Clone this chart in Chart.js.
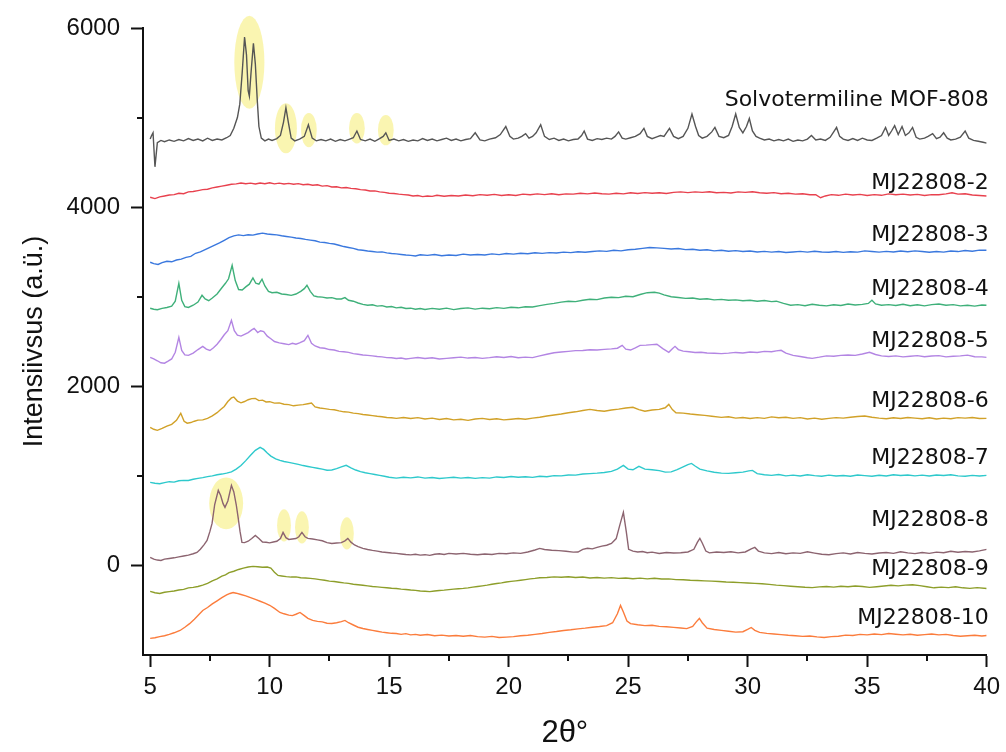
<!DOCTYPE html>
<html>
<head>
<meta charset="utf-8">
<script src="https://cdn.jsdelivr.net/npm/chart.js@4.4.1/dist/chart.umd.min.js"></script>
<style>
    body { margin: 0; background: #fff; }
    #xrd { display: block; }
</style>
</head>
<body>
<canvas id="xrd" width="1006" height="752"></canvas>
<script>
// diffraktogrammid, [2θ, intensiivsus] (nihutatud)
const mof808 = [[5.0,4760],[5.06,4800],[5.12,4830],[5.2,4450],[5.3,4720],[5.45,4745],[5.6,4730],[5.8,4750],[6.0,4735],[6.2,4755],[6.4,4740],[6.6,4765],[6.8,4745],[7.0,4760],[7.2,4740],[7.4,4770],[7.6,4745],[7.8,4760],[8.0,4750],[8.2,4775],[8.35,4800],[8.5,4880],[8.65,5000],[8.75,5150],[8.85,5500],[8.95,5900],[9.03,5700],[9.1,5300],[9.15,5240],[9.22,5500],[9.32,5830],[9.4,5600],[9.48,5200],[9.55,4900],[9.65,4770],[9.8,4740],[9.95,4760],[10.1,4745],[10.3,4765],[10.45,4800],[10.58,4950],[10.68,5110],[10.78,4950],[10.9,4770],[11.05,4740],[11.25,4760],[11.45,4790],[11.62,4920],[11.78,4770],[11.95,4740],[12.15,4755],[12.35,4740],[12.55,4760],[12.75,4735],[12.95,4755],[13.15,4740],[13.35,4760],[13.5,4775],[13.65,4850],[13.8,4755],[14.0,4740],[14.2,4760],[14.4,4735],[14.6,4765],[14.75,4790],[14.86,4830],[15.0,4745],[15.2,4760],[15.4,4740],[15.6,4755],[15.8,4735],[16.0,4750],[16.2,4740],[16.4,4765],[16.6,4745],[16.8,4760],[17.0,4740],[17.2,4755],[17.4,4770],[17.6,4745],[17.8,4760],[18.0,4740],[18.2,4755],[18.4,4765],[18.6,4830],[18.8,4750],[19.0,4740],[19.2,4760],[19.45,4775],[19.65,4810],[19.88,4900],[20.05,4790],[20.2,4760],[20.4,4770],[20.55,4790],[20.71,4820],[20.85,4770],[21.0,4790],[21.15,4830],[21.34,4920],[21.5,4790],[21.7,4755],[21.9,4770],[22.1,4745],[22.3,4760],[22.5,4740],[22.7,4755],[22.9,4760],[23.05,4800],[23.16,4850],[23.3,4760],[23.5,4745],[23.7,4765],[23.9,4755],[24.1,4770],[24.3,4760],[24.45,4790],[24.6,4840],[24.75,4770],[24.9,4760],[25.1,4775],[25.3,4790],[25.5,4820],[25.66,4880],[25.8,4790],[26.0,4765],[26.2,4785],[26.35,4800],[26.5,4790],[26.73,4880],[26.9,4790],[27.1,4765],[27.3,4790],[27.5,4880],[27.67,5040],[27.82,4900],[27.95,4800],[28.1,4770],[28.3,4790],[28.5,4840],[28.63,4890],[28.8,4790],[29.0,4775],[29.2,4800],[29.35,4900],[29.5,5040],[29.65,4890],[29.8,4830],[29.95,4900],[30.07,4990],[30.2,4850],[30.35,4790],[30.5,4770],[30.7,4750],[30.9,4760],[31.1,4740],[31.3,4755],[31.5,4740],[31.7,4760],[31.9,4735],[32.1,4750],[32.3,4740],[32.5,4760],[32.67,4800],[32.85,4750],[33.05,4760],[33.25,4745],[33.45,4780],[33.6,4840],[33.72,4890],[33.85,4790],[34.0,4760],[34.2,4745],[34.4,4765],[34.6,4745],[34.8,4770],[35.0,4750],[35.2,4745],[35.4,4770],[35.6,4800],[35.77,4890],[35.9,4800],[36.02,4850],[36.15,4910],[36.3,4810],[36.46,4900],[36.6,4800],[36.75,4830],[36.9,4890],[37.05,4780],[37.2,4760],[37.4,4770],[37.55,4790],[37.74,4820],[37.9,4765],[38.05,4780],[38.2,4830],[38.35,4770],[38.5,4750],[38.7,4760],[38.9,4780],[39.1,4850],[39.25,4770],[39.45,4745],[39.65,4735],[39.85,4725],[40.0,4715]]
const mj2 = [[5.0,4110],[5.2,4095],[5.4,4115],[5.6,4125],[5.8,4135],[6.0,4140],[6.2,4155],[6.4,4150],[6.6,4170],[6.8,4175],[7.0,4185],[7.2,4195],[7.4,4200],[7.6,4215],[7.8,4225],[8.0,4235],[8.2,4245],[8.4,4255],[8.6,4260],[8.8,4270],[9.0,4262],[9.2,4268],[9.4,4258],[9.6,4270],[9.8,4262],[10.0,4272],[10.2,4260],[10.4,4268],[10.6,4258],[10.8,4265],[11.0,4255],[11.2,4262],[11.4,4250],[11.6,4255],[11.8,4245],[12.0,4250],[12.2,4235],[12.4,4240],[12.6,4225],[12.8,4228],[13.0,4215],[13.2,4220],[13.4,4210],[13.6,4205],[13.8,4195],[14.0,4192],[14.2,4180],[14.4,4182],[14.6,4170],[14.8,4165],[15.0,4155],[15.2,4152],[15.4,4145],[15.6,4140],[15.8,4135],[16.0,4125],[16.2,4130],[16.4,4118],[16.6,4125],[16.8,4120],[17.0,4132],[17.3,4122],[17.6,4130],[17.9,4125],[18.2,4135],[18.5,4128],[18.8,4140],[19.1,4132],[19.4,4142],[19.7,4130],[20.0,4138],[20.3,4130],[20.6,4145],[20.9,4138],[21.2,4148],[21.5,4140],[21.8,4150],[22.1,4138],[22.4,4148],[22.7,4145],[23.0,4155],[23.3,4148],[23.6,4158],[23.9,4150],[24.2,4145],[24.5,4155],[24.8,4148],[25.1,4160],[25.4,4152],[25.7,4162],[26.0,4155],[26.3,4160],[26.6,4152],[26.9,4165],[27.2,4170],[27.5,4162],[27.8,4170],[28.1,4165],[28.4,4172],[28.7,4160],[29.0,4165],[29.3,4158],[29.6,4170],[29.9,4165],[30.2,4172],[30.5,4160],[30.8,4155],[31.1,4162],[31.4,4150],[31.7,4155],[32.0,4145],[32.3,4150],[32.6,4138],[32.85,4140],[33.05,4105],[33.25,4125],[33.5,4140],[33.8,4132],[34.1,4145],[34.4,4135],[34.7,4142],[35.0,4130],[35.3,4140],[35.6,4132],[35.9,4148],[36.2,4138],[36.5,4145],[36.8,4135],[37.1,4142],[37.4,4130],[37.7,4140],[38.0,4138],[38.3,4148],[38.55,4160],[38.8,4145],[39.1,4150],[39.4,4135],[39.7,4130],[40.0,4125]]
const mj3 = [[5.0,3385],[5.15,3370],[5.33,3360],[5.5,3380],[5.7,3395],[5.9,3390],[6.1,3410],[6.3,3420],[6.5,3440],[6.7,3450],[6.9,3485],[7.1,3500],[7.3,3525],[7.5,3550],[7.7,3575],[7.9,3600],[8.1,3630],[8.3,3660],[8.5,3680],[8.7,3690],[8.9,3682],[9.1,3692],[9.3,3688],[9.5,3700],[9.7,3710],[9.9,3700],[10.1,3695],[10.3,3690],[10.5,3680],[10.7,3672],[10.9,3665],[11.1,3655],[11.3,3650],[11.5,3640],[11.7,3632],[11.9,3625],[12.1,3610],[12.3,3605],[12.5,3595],[12.7,3588],[12.9,3575],[13.1,3560],[13.3,3550],[13.5,3540],[13.7,3525],[13.9,3518],[14.1,3510],[14.3,3505],[14.5,3498],[14.7,3500],[14.9,3490],[15.1,3482],[15.3,3478],[15.5,3472],[15.7,3465],[15.9,3462],[16.1,3455],[16.3,3468],[16.6,3462],[16.9,3472],[17.2,3458],[17.5,3465],[17.8,3460],[18.1,3475],[18.4,3465],[18.7,3472],[19.0,3466],[19.3,3478],[19.6,3470],[19.9,3482],[20.2,3476],[20.5,3486],[20.8,3480],[21.1,3490],[21.4,3484],[21.7,3492],[22.0,3488],[22.3,3498],[22.6,3492],[22.9,3502],[23.2,3496],[23.5,3505],[23.8,3512],[24.1,3506],[24.4,3518],[24.7,3512],[25.0,3525],[25.3,3530],[25.6,3540],[25.9,3550],[26.2,3545],[26.5,3540],[26.8,3532],[27.1,3538],[27.4,3526],[27.7,3530],[28.0,3518],[28.3,3524],[28.6,3512],[28.9,3518],[29.2,3508],[29.5,3514],[29.8,3505],[30.1,3510],[30.4,3500],[30.7,3506],[31.0,3498],[31.3,3504],[31.6,3494],[31.9,3500],[32.2,3506],[32.5,3498],[32.8,3508],[33.1,3500],[33.4,3496],[33.7,3505],[34.0,3495],[34.3,3502],[34.6,3498],[34.9,3512],[35.2,3505],[35.5,3498],[35.8,3506],[36.1,3500],[36.4,3510],[36.7,3502],[37.0,3512],[37.3,3504],[37.6,3496],[37.9,3504],[38.2,3498],[38.5,3510],[38.8,3504],[39.1,3516],[39.4,3508],[39.7,3520],[40.0,3519]]
const mj4 = [[5.0,2871],[5.15,2860],[5.3,2855],[5.5,2870],[5.7,2880],[5.9,2895],[6.05,2950],[6.2,3150],[6.32,2960],[6.45,2890],[6.6,2880],[6.8,2905],[7.0,2940],[7.17,3016],[7.3,2975],[7.45,2955],[7.6,2985],[7.8,3030],[8.0,3100],[8.15,3150],[8.28,3200],[8.43,3351],[8.56,3180],[8.7,3080],[8.85,3075],[9.0,3110],[9.15,3140],[9.3,3210],[9.42,3150],[9.55,3140],[9.68,3195],[9.8,3120],[9.95,3060],[10.1,3045],[10.3,3050],[10.5,3030],[10.7,3025],[10.9,3015],[11.1,3030],[11.3,3060],[11.45,3090],[11.56,3128],[11.7,3060],[11.85,3010],[12.0,3000],[12.2,2995],[12.4,2985],[12.6,2990],[12.8,2975],[13.0,2975],[13.15,2990],[13.3,2960],[13.5,2950],[13.7,2930],[13.9,2915],[14.1,2905],[14.3,2910],[14.5,2895],[14.7,2900],[14.9,2885],[15.1,2890],[15.3,2875],[15.5,2882],[15.7,2868],[15.9,2872],[16.1,2860],[16.3,2868],[16.5,2858],[16.8,2870],[17.1,2860],[17.4,2872],[17.7,2856],[18.0,2868],[18.3,2875],[18.6,2862],[18.9,2872],[19.2,2865],[19.5,2878],[19.8,2870],[20.1,2882],[20.4,2876],[20.7,2888],[21.0,2885],[21.3,2900],[21.6,2915],[21.9,2925],[22.2,2940],[22.5,2950],[22.8,2945],[23.1,2960],[23.4,2972],[23.7,2968],[24.0,2985],[24.3,2994],[24.6,2990],[24.9,3005],[25.2,3000],[25.5,3025],[25.8,3045],[26.1,3050],[26.3,3040],[26.5,3020],[26.8,3000],[27.1,2992],[27.4,2982],[27.7,2985],[28.0,2972],[28.3,2978],[28.6,2965],[28.9,2970],[29.2,2960],[29.5,2965],[29.8,2955],[30.1,2960],[30.4,2950],[30.7,2958],[31.0,2945],[31.2,2950],[31.5,2925],[31.8,2905],[32.1,2912],[32.4,2900],[32.7,2915],[33.0,2905],[33.3,2898],[33.6,2910],[33.9,2902],[34.2,2918],[34.5,2908],[34.8,2914],[35.05,2925],[35.2,2960],[35.35,2920],[35.6,2905],[35.9,2912],[36.2,2902],[36.5,2915],[36.8,2900],[37.1,2910],[37.4,2898],[37.7,2912],[38.0,2918],[38.3,2905],[38.6,2912],[38.9,2898],[39.2,2905],[39.5,2895],[39.8,2908],[40.0,2904]]
const mj5 = [[5.0,2323],[5.15,2305],[5.3,2285],[5.45,2262],[5.6,2258],[5.75,2280],[5.9,2305],[6.05,2380],[6.2,2547],[6.32,2400],[6.45,2350],[6.6,2345],[6.8,2370],[7.0,2410],[7.2,2446],[7.35,2415],[7.5,2400],[7.65,2430],[7.8,2470],[7.95,2520],[8.1,2575],[8.25,2620],[8.4,2737],[8.52,2620],[8.65,2570],[8.8,2560],[8.95,2580],[9.1,2600],[9.25,2630],[9.35,2647],[9.5,2600],[9.62,2620],[9.75,2610],[9.9,2560],[10.05,2530],[10.2,2500],[10.4,2485],[10.6,2475],[10.8,2465],[10.95,2480],[11.1,2470],[11.25,2485],[11.45,2510],[11.6,2569],[11.75,2480],[11.9,2450],[12.1,2430],[12.3,2425],[12.5,2410],[12.7,2405],[12.9,2390],[13.1,2385],[13.3,2378],[13.5,2365],[13.7,2358],[13.9,2350],[14.1,2345],[14.3,2340],[14.5,2332],[14.7,2328],[14.9,2320],[15.1,2318],[15.3,2310],[15.5,2316],[15.7,2305],[15.9,2312],[16.2,2322],[16.5,2310],[16.8,2318],[17.1,2304],[17.4,2312],[17.7,2318],[18.0,2325],[18.3,2315],[18.6,2322],[18.9,2312],[19.2,2320],[19.5,2330],[19.8,2322],[20.1,2332],[20.4,2318],[20.7,2326],[21.0,2320],[21.3,2340],[21.6,2358],[21.9,2375],[22.2,2382],[22.5,2390],[22.8,2398],[23.1,2400],[23.4,2408],[23.7,2405],[24.0,2412],[24.3,2418],[24.55,2425],[24.75,2457],[24.9,2415],[25.1,2405],[25.3,2430],[25.5,2457],[25.75,2460],[26.0,2465],[26.2,2469],[26.45,2420],[26.7,2380],[26.85,2420],[26.96,2446],[27.1,2410],[27.3,2392],[27.55,2385],[27.8,2378],[28.05,2380],[28.3,2372],[28.6,2368],[28.9,2365],[29.2,2370],[29.5,2378],[29.8,2372],[30.1,2382],[30.4,2378],[30.7,2390],[31.0,2385],[31.2,2395],[31.4,2402],[31.6,2370],[31.9,2345],[32.2,2332],[32.5,2318],[32.7,2312],[33.0,2325],[33.3,2340],[33.6,2335],[33.9,2345],[34.2,2350],[34.5,2345],[34.8,2360],[35.1,2379],[35.35,2355],[35.6,2340],[35.9,2332],[36.2,2340],[36.5,2328],[36.8,2335],[37.1,2342],[37.4,2330],[37.7,2338],[38.0,2342],[38.3,2328],[38.6,2335],[38.9,2340],[39.2,2348],[39.5,2330],[39.8,2328],[40.0,2323]]
const mj6 = [[5.0,1541],[5.15,1520],[5.3,1508],[5.5,1530],[5.7,1555],[5.9,1575],[6.1,1620],[6.28,1698],[6.42,1610],[6.55,1588],[6.7,1595],[6.85,1610],[7.0,1622],[7.2,1625],[7.4,1642],[7.6,1670],[7.8,1705],[7.95,1740],[8.1,1775],[8.25,1830],[8.4,1870],[8.5,1880],[8.65,1835],[8.8,1815],[8.95,1830],[9.1,1850],[9.25,1862],[9.4,1865],[9.55,1840],[9.7,1845],[9.85,1825],[10.0,1828],[10.2,1812],[10.4,1815],[10.6,1800],[10.8,1795],[11.0,1782],[11.2,1790],[11.4,1795],[11.6,1805],[11.75,1812],[11.9,1770],[12.1,1758],[12.3,1750],[12.5,1742],[12.7,1738],[12.9,1725],[13.1,1715],[13.3,1712],[13.5,1700],[13.7,1695],[13.9,1685],[14.1,1680],[14.3,1672],[14.5,1665],[14.7,1660],[14.9,1652],[15.1,1648],[15.3,1642],[15.6,1652],[15.9,1640],[16.2,1650],[16.5,1635],[16.8,1645],[17.1,1630],[17.4,1640],[17.7,1625],[18.0,1632],[18.3,1620],[18.6,1635],[18.9,1642],[19.2,1630],[19.5,1638],[19.8,1625],[20.1,1632],[20.4,1640],[20.7,1632],[21.0,1645],[21.3,1655],[21.6,1668],[21.9,1680],[22.2,1690],[22.5,1705],[22.8,1715],[23.1,1730],[23.4,1742],[23.7,1730],[24.0,1722],[24.3,1735],[24.6,1745],[24.9,1758],[25.2,1765],[25.45,1740],[25.7,1722],[26.0,1735],[26.3,1742],[26.55,1760],[26.7,1798],[26.85,1740],[27.0,1705],[27.3,1700],[27.6,1690],[27.9,1682],[28.2,1675],[28.5,1665],[28.9,1653],[29.2,1660],[29.5,1645],[29.8,1652],[30.1,1640],[30.4,1650],[30.7,1642],[31.0,1658],[31.3,1648],[31.6,1655],[31.9,1642],[32.2,1650],[32.5,1635],[32.8,1645],[33.1,1632],[33.4,1642],[33.7,1650],[34.0,1645],[34.3,1655],[34.6,1662],[34.9,1668],[35.2,1655],[35.5,1645],[35.8,1638],[36.1,1648],[36.4,1640],[36.7,1652],[37.0,1645],[37.3,1638],[37.6,1648],[37.9,1635],[38.2,1645],[38.5,1638],[38.8,1650],[39.1,1645],[39.4,1652],[39.7,1640],[40.0,1642]]
const mj7 = [[5.0,927],[5.2,918],[5.4,912],[5.6,925],[5.8,935],[6.0,930],[6.2,945],[6.4,950],[6.6,948],[6.8,962],[7.0,972],[7.2,980],[7.4,992],[7.6,1000],[7.8,1012],[8.0,1020],[8.2,1030],[8.4,1045],[8.6,1075],[8.8,1115],[9.0,1170],[9.2,1230],[9.4,1285],[9.6,1318],[9.75,1295],[9.9,1255],[10.05,1220],[10.25,1190],[10.43,1173],[10.6,1160],[10.8,1150],[11.0,1140],[11.2,1128],[11.4,1115],[11.6,1105],[11.8,1095],[12.0,1085],[12.2,1075],[12.4,1062],[12.6,1065],[12.8,1080],[13.0,1100],[13.2,1117],[13.4,1090],[13.6,1065],[13.8,1048],[14.0,1035],[14.2,1025],[14.4,1015],[14.6,1005],[14.8,995],[15.0,985],[15.3,975],[15.6,985],[15.9,978],[16.2,988],[16.5,975],[16.8,982],[17.1,970],[17.4,978],[17.7,985],[18.0,975],[18.3,982],[18.6,972],[18.9,980],[19.2,975],[19.5,988],[19.8,982],[20.1,992],[20.4,985],[20.7,990],[21.0,983],[21.3,995],[21.6,990],[21.9,1002],[22.2,1000],[22.5,1010],[22.8,1008],[23.1,1020],[23.4,1025],[23.7,1030],[24.0,1038],[24.3,1050],[24.55,1075],[24.8,1117],[25.0,1075],[25.2,1068],[25.45,1106],[25.7,1075],[26.0,1068],[26.3,1058],[26.55,1042],[26.8,1045],[27.05,1070],[27.3,1100],[27.5,1125],[27.65,1139],[27.8,1110],[28.0,1075],[28.3,1055],[28.6,1040],[28.9,1030],[29.2,1028],[29.5,1035],[29.8,1042],[30.05,1055],[30.2,1061],[30.4,1025],[30.7,1012],[31.0,1005],[31.3,1015],[31.6,1000],[31.9,1008],[32.2,998],[32.5,1012],[32.8,1002],[33.1,995],[33.4,1008],[33.7,998],[34.0,1004],[34.3,995],[34.6,1010],[34.9,1002],[35.2,995],[35.5,1006],[35.8,998],[36.1,1012],[36.4,1004],[36.7,1010],[37.0,1000],[37.3,1008],[37.6,998],[37.9,1010],[38.2,1004],[38.5,1012],[38.8,1000],[39.1,995],[39.4,1005],[39.7,998],[40.0,1005]]
const mj8 = [[5.0,89],[5.15,70],[5.3,60],[5.45,55],[5.6,70],[5.8,78],[6.0,85],[6.2,95],[6.4,105],[6.6,115],[6.8,130],[6.96,145],[7.1,180],[7.25,230],[7.38,279],[7.5,380],[7.59,469],[7.7,680],[7.85,838],[7.95,780],[8.05,690],[8.13,648],[8.25,720],[8.4,894],[8.5,820],[8.6,680],[8.68,536],[8.76,380],[8.84,257],[8.95,255],[9.1,270],[9.25,300],[9.4,335],[9.55,300],[9.7,262],[9.85,258],[10.0,252],[10.15,262],[10.3,270],[10.45,300],[10.56,369],[10.68,310],[10.8,290],[10.95,295],[11.1,300],[11.22,320],[11.35,369],[11.48,320],[11.6,302],[11.8,295],[12.0,285],[12.2,275],[12.4,255],[12.6,245],[12.8,250],[13.0,255],[13.15,275],[13.27,302],[13.4,260],[13.55,228],[13.7,210],[13.9,190],[14.1,178],[14.3,168],[14.5,160],[14.7,150],[14.9,145],[15.1,138],[15.3,134],[15.5,128],[15.7,122],[15.9,118],[16.1,125],[16.3,115],[16.5,120],[16.7,112],[16.9,125],[17.1,130],[17.3,122],[17.5,135],[17.8,128],[18.1,134],[18.4,125],[18.7,120],[19.0,128],[19.3,122],[19.6,135],[19.9,130],[20.2,140],[20.5,135],[20.8,150],[21.1,172],[21.3,190],[21.5,178],[21.8,170],[22.1,165],[22.4,158],[22.7,148],[22.9,150],[23.1,180],[23.3,192],[23.5,185],[23.7,201],[23.9,215],[24.1,225],[24.3,246],[24.5,300],[24.65,450],[24.8,592],[24.92,380],[25.02,180],[25.2,160],[25.4,150],[25.6,155],[25.8,142],[26.0,148],[26.3,134],[26.6,145],[26.9,138],[27.2,142],[27.5,150],[27.75,180],[27.9,260],[28.0,302],[28.1,250],[28.25,160],[28.4,140],[28.7,150],[29.0,145],[29.3,152],[29.6,140],[29.9,150],[30.15,185],[30.3,201],[30.45,160],[30.7,140],[31.0,132],[31.3,145],[31.6,130],[31.9,140],[32.2,135],[32.5,152],[32.8,138],[33.1,125],[33.4,120],[33.7,132],[34.0,140],[34.3,128],[34.6,145],[34.9,135],[35.2,128],[35.5,138],[35.8,145],[36.1,135],[36.4,152],[36.7,140],[37.0,132],[37.3,145],[37.6,135],[37.9,148],[38.2,142],[38.5,158],[38.8,148],[39.1,155],[39.4,150],[39.7,162],[40.0,179]]
const mj9 = [[5.0,-290],[5.2,-305],[5.4,-313],[5.6,-300],[5.8,-292],[6.0,-285],[6.2,-275],[6.4,-268],[6.6,-250],[6.8,-245],[7.0,-235],[7.2,-220],[7.4,-200],[7.6,-172],[7.8,-150],[8.0,-120],[8.15,-105],[8.3,-80],[8.5,-65],[8.7,-45],[8.9,-30],[9.1,-18],[9.3,-11],[9.5,-15],[9.7,-20],[9.9,-18],[10.05,-30],[10.2,-75],[10.35,-112],[10.5,-118],[10.7,-125],[10.9,-130],[11.1,-128],[11.3,-138],[11.5,-140],[11.7,-145],[11.9,-150],[12.1,-158],[12.3,-165],[12.5,-175],[12.7,-180],[12.9,-188],[13.1,-195],[13.3,-200],[13.5,-210],[13.7,-215],[13.9,-222],[14.1,-228],[14.3,-235],[14.5,-240],[14.7,-245],[14.9,-250],[15.1,-255],[15.3,-258],[15.5,-265],[15.7,-268],[15.9,-275],[16.1,-278],[16.3,-285],[16.5,-288],[16.7,-292],[16.9,-285],[17.1,-280],[17.3,-276],[17.5,-270],[17.7,-265],[17.9,-260],[18.1,-256],[18.3,-250],[18.5,-242],[18.7,-235],[18.9,-228],[19.1,-220],[19.3,-210],[19.5,-202],[19.7,-195],[19.9,-185],[20.1,-178],[20.3,-172],[20.5,-165],[20.7,-158],[20.9,-150],[21.1,-145],[21.3,-138],[21.6,-134],[21.9,-128],[22.2,-132],[22.5,-126],[22.8,-135],[23.1,-130],[23.4,-140],[23.7,-135],[24.0,-142],[24.3,-136],[24.6,-145],[24.9,-140],[25.2,-148],[25.5,-142],[25.8,-150],[26.1,-144],[26.4,-152],[26.7,-150],[27.0,-158],[27.3,-160],[27.6,-165],[27.9,-168],[28.2,-172],[28.5,-175],[28.8,-180],[29.1,-185],[29.4,-188],[29.7,-192],[30.0,-196],[30.3,-200],[30.6,-205],[30.9,-212],[31.2,-220],[31.5,-225],[31.8,-232],[32.1,-238],[32.4,-244],[32.7,-248],[33.0,-240],[33.3,-236],[33.6,-242],[33.9,-232],[34.2,-238],[34.5,-230],[34.8,-236],[35.1,-245],[35.4,-238],[35.7,-230],[36.0,-222],[36.3,-228],[36.6,-220],[36.9,-215],[37.2,-225],[37.5,-238],[37.8,-250],[38.1,-242],[38.4,-248],[38.7,-238],[39.0,-250],[39.3,-256],[39.6,-248],[40.0,-257]]
const mj10 = [[5.0,-815],[5.2,-808],[5.4,-795],[5.6,-785],[5.8,-770],[6.0,-752],[6.25,-726],[6.45,-690],[6.65,-650],[6.85,-600],[7.05,-545],[7.2,-503],[7.4,-470],[7.6,-430],[7.8,-395],[8.0,-360],[8.2,-330],[8.34,-313],[8.47,-302],[8.6,-310],[8.8,-325],[9.0,-340],[9.2,-360],[9.4,-380],[9.6,-400],[9.8,-420],[10.0,-445],[10.2,-480],[10.43,-525],[10.6,-540],[10.8,-555],[10.95,-560],[11.1,-545],[11.27,-525],[11.45,-560],[11.6,-590],[11.8,-614],[12.0,-625],[12.2,-630],[12.4,-645],[12.6,-648],[12.8,-640],[13.0,-628],[13.15,-614],[13.3,-640],[13.5,-665],[13.7,-690],[13.9,-704],[14.1,-715],[14.3,-725],[14.5,-735],[14.7,-745],[14.9,-752],[15.1,-758],[15.3,-760],[15.5,-770],[15.7,-762],[15.9,-775],[16.1,-770],[16.3,-780],[16.6,-772],[16.9,-785],[17.2,-778],[17.5,-788],[17.8,-782],[18.1,-790],[18.4,-782],[18.7,-795],[19.0,-800],[19.3,-792],[19.6,-805],[19.9,-800],[20.2,-795],[20.5,-785],[20.8,-780],[21.1,-770],[21.4,-760],[21.7,-748],[22.0,-738],[22.3,-726],[22.6,-718],[22.9,-708],[23.2,-700],[23.5,-690],[23.8,-682],[24.1,-672],[24.35,-640],[24.55,-540],[24.68,-447],[24.8,-520],[24.95,-620],[25.1,-650],[25.4,-662],[25.7,-672],[26.0,-668],[26.3,-680],[26.6,-685],[26.9,-692],[27.2,-698],[27.45,-705],[27.7,-680],[27.85,-630],[27.98,-592],[28.1,-640],[28.3,-700],[28.6,-715],[28.9,-725],[29.2,-735],[29.5,-745],[29.8,-740],[30.0,-715],[30.15,-693],[30.3,-725],[30.5,-748],[30.8,-758],[31.1,-765],[31.4,-772],[31.7,-780],[32.0,-785],[32.3,-792],[32.6,-788],[32.9,-798],[33.2,-805],[33.5,-795],[33.8,-790],[34.1,-778],[34.4,-782],[34.7,-770],[35.0,-775],[35.3,-765],[35.6,-772],[35.9,-760],[36.2,-768],[36.5,-775],[36.8,-768],[37.1,-780],[37.4,-772],[37.7,-765],[38.0,-775],[38.3,-770],[38.6,-782],[38.9,-790],[39.2,-785],[39.5,-780],[39.8,-788],[40.0,-782]]

const sampleNames = ['Solvotermiline MOF-808', 'MJ22808-2', 'MJ22808-3', 'MJ22808-4', 'MJ22808-5', 'MJ22808-6', 'MJ22808-7', 'MJ22808-8', 'MJ22808-9', 'MJ22808-10']
const nameY = [5194, 4270, 3690, 3080, 2500, 1830, 1200, 503, -45, -592]
const xTicks = [5, 7.5, 10, 12.5, 15, 17.5, 20, 22.5, 25, 27.5, 30, 32.5, 35, 37.5, 40]
const yTicks = [-1000, 0, 1000, 2000, 3000, 4000, 5000, 6000]

// kollased esiletõstud: [2θ, y, raadius 2θ, raadius y]
const highlights = [[9.15, 5618, 0.63, 520], [10.68, 4881, 0.46, 280], [11.64, 4860, 0.33, 190], [13.65, 4881, 0.33, 170], [14.86, 4860, 0.33, 170],
    [8.18, 693, 0.71, 290], [10.6, 447, 0.29, 180], [11.35, 425, 0.29, 180], [13.23, 357, 0.29, 180]]

const allSeries = [mof808, mj2, mj3, mj4, mj5, mj6, mj7, mj8, mj9, mj10]
const colors = ['#555555', '#e8414e', '#3a78de', '#3fb07a', '#b385e3', '#d1a128', '#2ec9cc', '#8c6470', '#8d9e2a', '#fb7c3c']

const isMajorX = (v) => v % 5 === 0
const isMajorY = (v) => v >= 0 && v % 2000 === 0

const decor = {
    id: 'decor',
    beforeDatasetsDraw(chart) {
        const { ctx, scales: { x, y } } = chart
        ctx.save()
        ctx.fillStyle = 'rgba(246, 238, 125, 0.6)'
        highlights.forEach(([cx, cy, rx, ry]) => {
            const px = x.getPixelForValue(cx)
            const py = y.getPixelForValue(cy)
            const w = x.getPixelForValue(cx + rx) - px
            const h = py - y.getPixelForValue(cy + ry)
            ctx.beginPath()
            ctx.ellipse(px, py, w, h, 0, 0, Math.PI * 2)
            ctx.fill()
        })
        ctx.restore()
    },
    afterDraw(chart) {
        const { ctx, chartArea, scales: { x, y } } = chart
        ctx.save()
        // väikesed jaotised
        ctx.strokeStyle = '#111'
        ctx.lineWidth = 2
        xTicks.filter((v) => !isMajorX(v)).forEach((v) => {
            const px = Math.round(x.getPixelForValue(v))
            ctx.beginPath()
            ctx.moveTo(px, chartArea.bottom)
            ctx.lineTo(px, chartArea.bottom + 6)
            ctx.stroke()
        })
        yTicks.filter((v) => !isMajorY(v) && v > -1000).forEach((v) => {
            const py = Math.round(y.getPixelForValue(v))
            ctx.beginPath()
            ctx.moveTo(chartArea.left, py)
            ctx.lineTo(chartArea.left - 6, py)
            ctx.stroke()
        })
        // proovide nimed
        ctx.fillStyle = '#111'
        ctx.font = '22px "DejaVu Sans"'
        ctx.textAlign = 'right'
        ctx.textBaseline = 'middle'
        sampleNames.forEach((name, i) => {
            ctx.fillText(name, chartArea.right + 2, y.getPixelForValue(nameY[i]))
        })
        ctx.restore()
    },
}

new Chart(document.getElementById('xrd'), {
    type: 'line',
    data: {
        datasets: allSeries.map((s, i) => ({
            label: sampleNames[i],
            data: s.map(([a, b]) => ({ x: a, y: b })),
            borderColor: colors[i],
            borderWidth: 1.4,
            pointRadius: 0,
            tension: 0,
        })),
    },
    options: {
        responsive: false,
        animation: false,
        devicePixelRatio: 1,
        layout: { padding: { top: 28, right: 18, left: 0, bottom: 0 } },
        plugins: { legend: { display: false }, tooltip: { enabled: false } },
        scales: {
            x: {
                type: 'linear',
                min: 4.7,
                max: 40,
                afterBuildTicks: (scale) => { scale.ticks = xTicks.map((v) => ({ value: v })) },
                afterFit: (scale) => { scale.height = 97 },
                border: { color: '#111', width: 2 },
                grid: {
                    drawOnChartArea: false,
                    tickLength: 12,
                    tickWidth: 2,
                    tickColor: (c) => (isMajorX(c.tick.value) ? '#111' : 'rgba(0,0,0,0)'),
                },
                ticks: {
                    autoSkip: false,
                    maxRotation: 0,
                    padding: 6,
                    color: '#111',
                    font: { family: 'Liberation Sans', size: 24 },
                    callback: (v) => (isMajorX(v) ? v : ''),
                },
                title: {
                    display: true,
                    text: '2θ°',
                    color: '#111',
                    font: { family: 'Liberation Sans', size: 31 },
                    padding: { top: 0, bottom: 0 },
                },
            },
            y: {
                min: -1000,
                max: 6000,
                afterBuildTicks: (scale) => { scale.ticks = yTicks.map((v) => ({ value: v })) },
                afterFit: (scale) => { scale.width = 143 },
                border: { color: '#111', width: 2 },
                grid: {
                    drawOnChartArea: false,
                    tickLength: 12,
                    tickWidth: 2,
                    tickColor: (c) => (isMajorY(c.tick.value) ? '#111' : 'rgba(0,0,0,0)'),
                },
                ticks: {
                    padding: 11,
                    color: '#111',
                    font: { family: 'Liberation Sans', size: 24 },
                    callback: (v) => (isMajorY(v) ? v : ''),
                },
                title: {
                    display: true,
                    text: 'Intensiivsus (a.ü.)',
                    color: '#111',
                    font: { family: 'Liberation Sans', size: 27 },
                    padding: { top: 18, bottom: 0 },
                },
            },
        },
    },
    plugins: [decor],
})
</script>
</body>
</html>
